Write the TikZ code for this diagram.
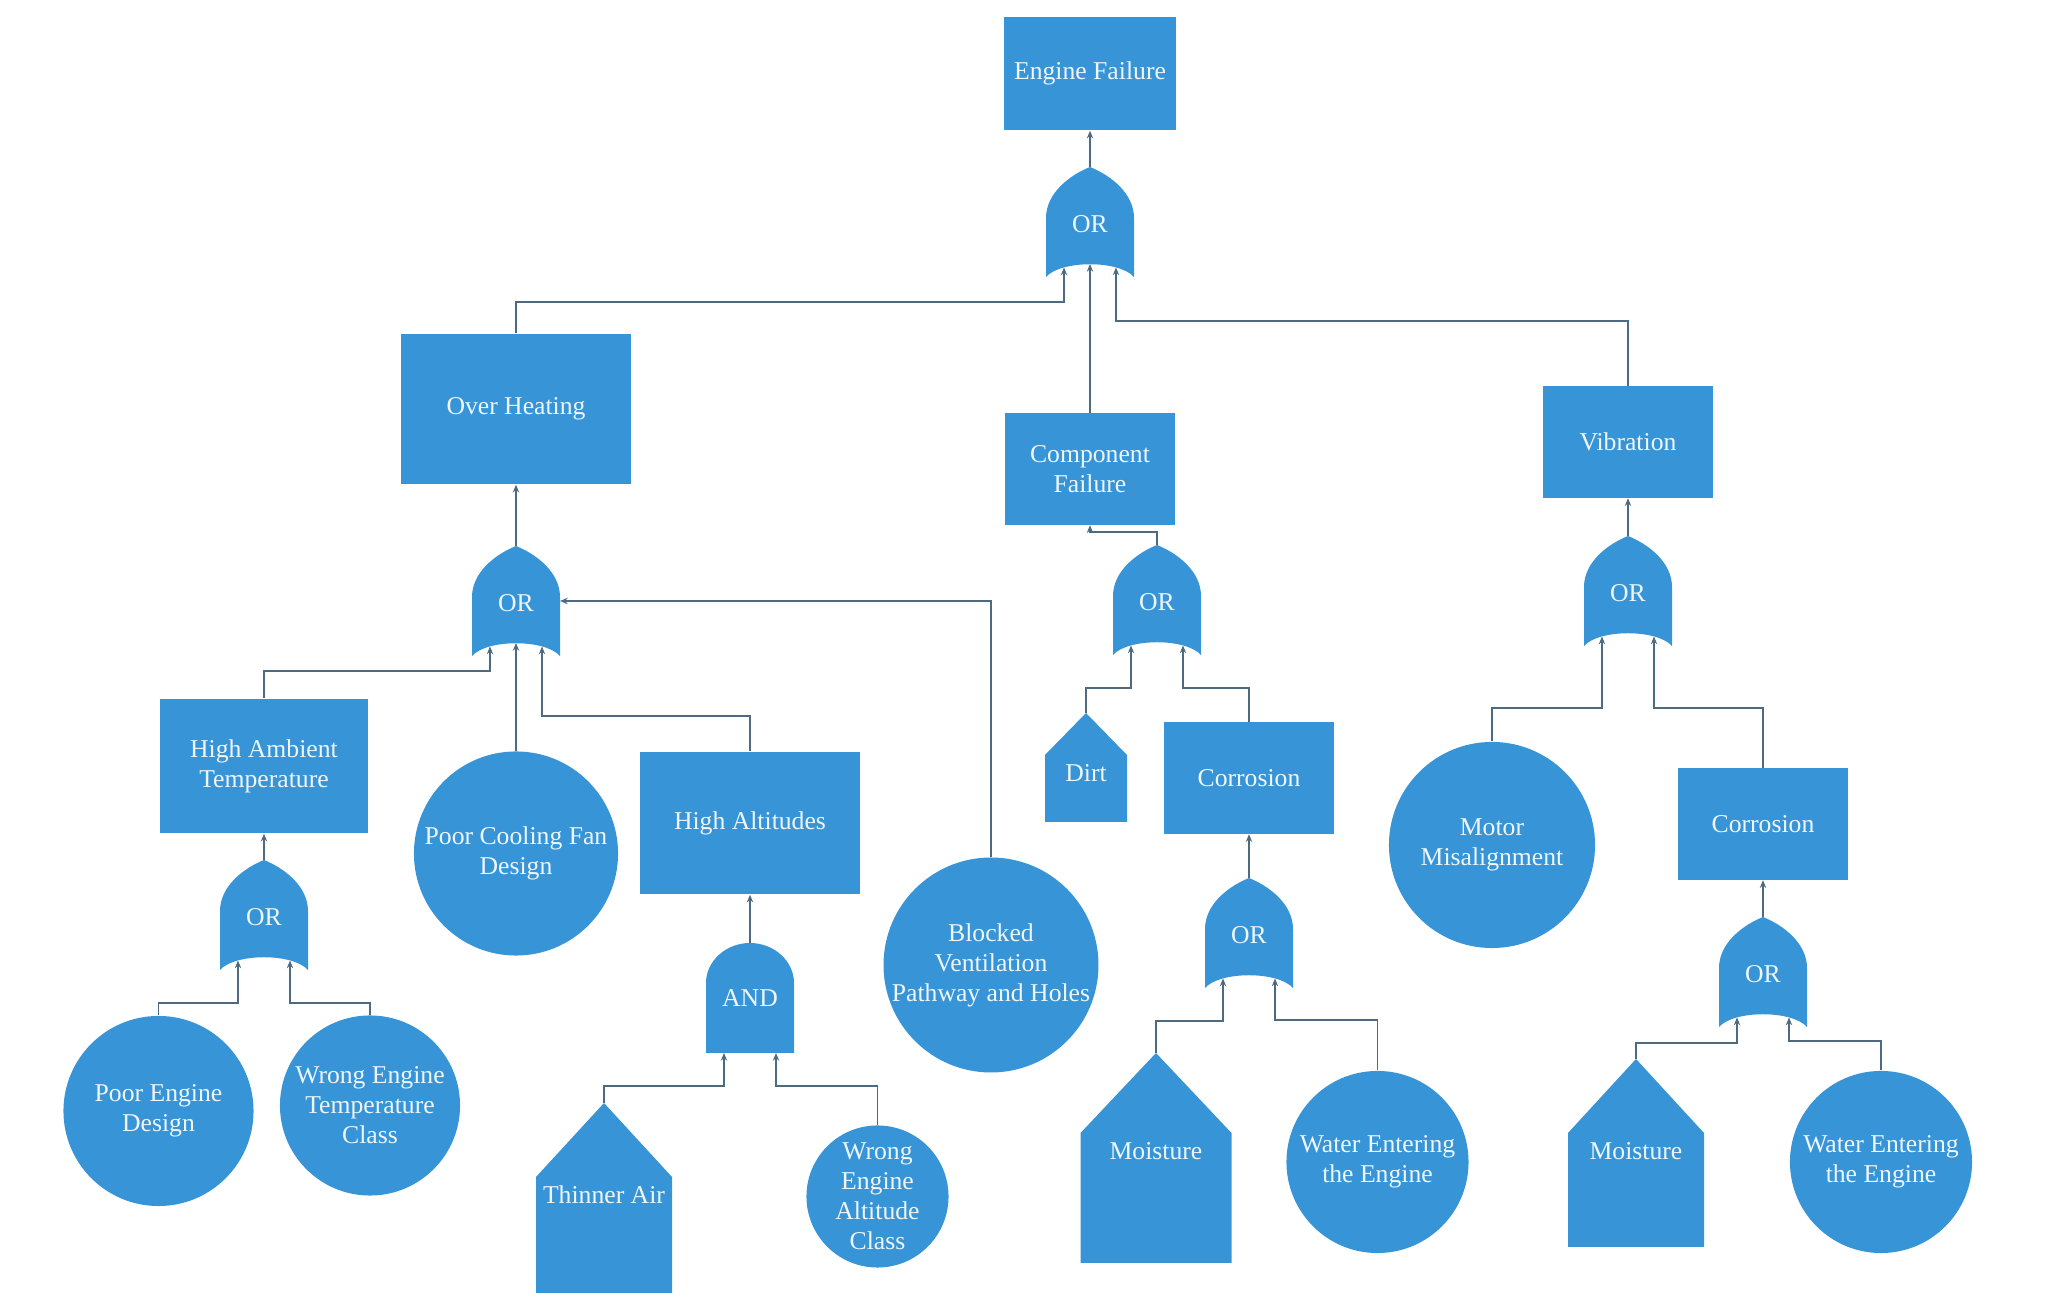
\documentclass[tikz,border=0pt]{standalone}
\usepackage{fontspec}
\setmainfont{Liberation Serif}
\usetikzlibrary{arrows.meta,positioning}
\definecolor{EvBlue}{HTML}{3795D7}
\definecolor{EvText}{HTML}{EEF6FC}
\definecolor{Link}{HTML}{4D6A80}

\begin{document}
\begin{tikzpicture}[x=0.01cm,y=-0.01cm,font=\rmfamily\fontsize{7.3}{8.5}\selectfont,
    evtext/.style={text=EvText,align=center,inner sep=0pt},
    box/.style n args={2}{evtext,fill=EvBlue,rectangle,minimum width=#1,minimum height=#2},
    basic/.style={evtext,fill=EvBlue,circle,minimum size=#1},
    link/.style={draw=Link,line width=0.45pt,-{Stealth[length=2.2pt,width=1.8pt]}},
    % OR gate: pointed top, concave bottom
    pics/orgate/.style={code={
      \fill[EvBlue] (0,0) .. controls (20,8) and (44,26) .. (44,51) -- (44,110)
        .. controls (29,93) and (-29,93) .. (-44,110) -- (-44,51)
        .. controls (-44,26) and (-20,8) .. cycle;
      \node[evtext] (-label) at (0,57) {OR};
      \coordinate (-out) at (0,0);
      \coordinate (-in1) at (-26,100.5);
      \coordinate (-in2) at (0,97);
      \coordinate (-in3) at (26,100.5);
      \coordinate (-east) at (44,55);
    }},
    % AND gate: round top, flat bottom
    pics/andgate/.style={code={
      \fill[EvBlue] (-44,110) -- (-44,40) .. controls (-44,18) and (-24,0) .. (0,0)
        .. controls (24,0) and (44,18) .. (44,40) -- (44,110) -- cycle;
      \node[evtext] (-label) at (0,55) {AND};
      \coordinate (-out) at (0,0);
      \coordinate (-in1) at (-26,110);
      \coordinate (-in3) at (26,110);
    }},
    % undeveloped event (house): half width, roof, height, text
    pics/house/.style n args={4}{code={
      \fill[EvBlue] (0,0) -- (#1,#2) -- (#1,#3) -- (-#1,#3) -- (-#1,#2) -- cycle;
      \coordinate (-top) at (0,0);
      \node[evtext] (-label) at (0,#2+18) {#4};
    }}]
  \useasboundingbox (0,0) rectangle (2071,1307);

  % events
  \node[box={1.72cm}{1.13cm}] (ef) at (1090,73.5) {Engine Failure};
  \node[box={2.29cm}{1.50cm}] (oh) at (516,409) {Over Heating};
  \node[box={1.69cm}{1.11cm}] (cf) at (1090,469) {Component\\Failure};
  \node[box={1.70cm}{1.11cm}] (vib) at (1628,442) {Vibration};
  \node[box={2.07cm}{1.34cm}] (hat) at (264,766) {High Ambient\\Temperature};
  \node[box={2.19cm}{1.42cm}] (ha) at (750,823) {High Altitudes};
  \node[box={1.70cm}{1.11cm}] (cor1) at (1249,778) {Corrosion};
  \node[box={1.70cm}{1.11cm}] (cor2) at (1763,824) {Corrosion};

  % basic events
  \node[basic=2.04cm] (pcf) at (516,853.5) {Poor Cooling Fan\\Design};
  \node[basic=2.14cm] (bv) at (991,965) {Blocked\\Ventilation\\Pathway and Holes};
  \node[basic=1.90cm] (ped) at (158.5,1111) {Poor Engine\\Design};
  \node[basic=1.80cm] (wetc) at (370,1105.5) {Wrong Engine\\Temperature\\Class};
  \node[basic=1.42cm] (weac) at (877.5,1196.5) {Wrong\\Engine\\Altitude\\Class};
  \node[basic=2.06cm] (mm) at (1492,845) {Motor\\Misalignment};
  \node[basic=1.82cm] (we1) at (1377.5,1162) {Water Entering\\the Engine};
  \node[basic=1.82cm] (we2) at (1881,1162) {Water Entering\\the Engine};

  % undeveloped events
  \pic (ta) at (604,1103) {house={68}{74}{190}{Thinner Air}};
  \pic (dirt) at (1086,713) {house={41}{42}{109}{Dirt}};
  \pic (m1) at (1156,1053) {house={75.5}{80}{210}{Moisture}};
  \pic (m2) at (1636,1059) {house={68}{74}{188}{Moisture}};

  % gates
  \foreach \g/\gx/\gy in {g0/1090/167,g1/516/546,g2/264/860,g4/1157/545,
                          g5/1249/878,g6/1628/536,g7/1763/917}
    \pic (\g) at (\gx,\gy) {orgate};
  \pic (g3) at (750,943) {andgate};

  % top event
  \draw[link] (g0-out) -- (ef.south);
  \draw[link] (oh.north) -- ++(0,-31) -| (g0-in1);
  \draw[link] (cf.north) -- (g0-in2);
  \draw[link] (vib.north) -- ++(0,-65) -| (g0-in3);

  % over heating
  \draw[link] (g1-out) -- (oh.south);
  \draw[link] (hat.north) -- ++(0,-27) -| (g1-in1);
  \draw[link] (pcf.north) -- (g1-in2);
  \draw[link] (ha.north) -- ++(0,-35) -| (g1-in3);
  \draw[link] (bv.north) |- (g1-east);
  \draw[link] (g2-out) -- (hat.south);
  \draw[link] (ped.north) -- ++(0,-12) -| (g2-in1);
  \draw[link] (wetc.north) -- ++(0,-12) -| (g2-in3);
  \draw[link] (g3-out) -- (ha.south);
  \draw[link] (ta-top) -- ++(0,-17) -| (g3-in1);
  \draw[link] (weac.north) -- ++(0,-39) -| (g3-in3);

  % component failure
  \draw[link] (g4-out) -- ++(0,-13) -| (cf.south);
  \draw[link] (dirt-top) -- ++(0,-25) -| (g4-in1);
  \draw[link] (cor1.north) -- ++(0,-34) -| (g4-in3);
  \draw[link] (g5-out) -- (cor1.south);
  \draw[link] (m1-top) -- ++(0,-32) -| (g5-in1);
  \draw[link] (we1.north) -- ++(0,-50) -| (g5-in3);

  % vibration
  \draw[link] (g6-out) -- (vib.south);
  \draw[link] (mm.north) -- ++(0,-33) -| (g6-in1);
  \draw[link] (cor2.north) -- ++(0,-60) -| (g6-in3);
  \draw[link] (g7-out) -- (cor2.south);
  \draw[link] (m2-top) -- ++(0,-16) -| (g7-in1);
  \draw[link] (we2.north) -- ++(0,-29) -| (g7-in3);
\end{tikzpicture}
\end{document}
